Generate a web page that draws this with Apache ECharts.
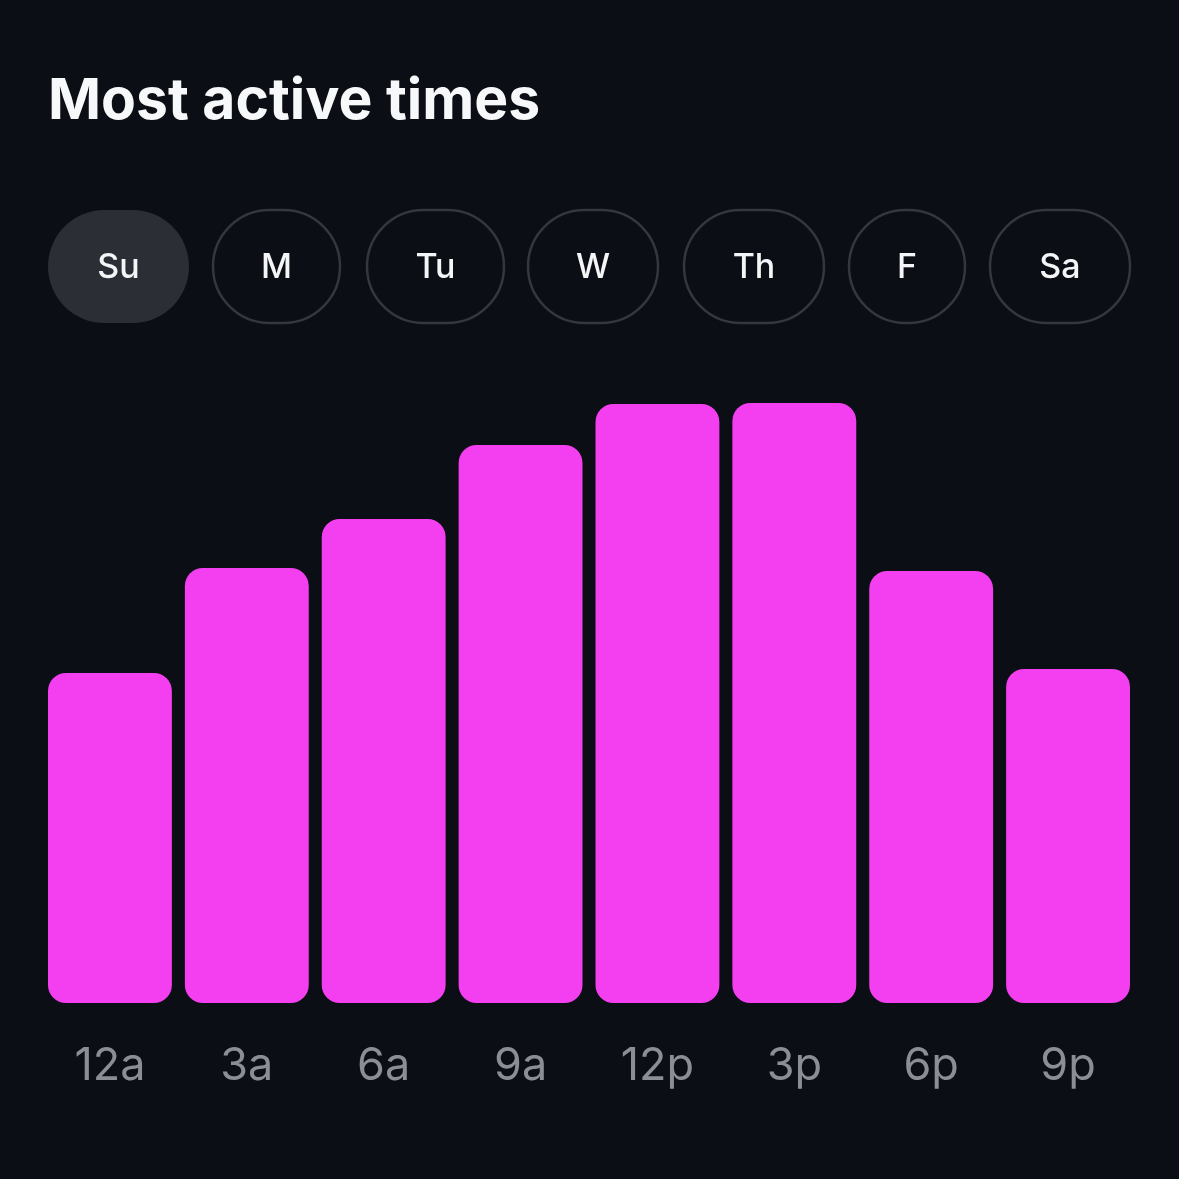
<!DOCTYPE html>
<html>
<head>
<meta charset="utf-8">
<script src="https://cdn.jsdelivr.net/npm/echarts@6/dist/echarts.min.js"></script>
<style>
html,body{margin:0;padding:0;background:#0b0e14;}
#chart{width:1179px;height:1179px;}
</style>
</head>
<body>
<div id="chart"></div>
<script>
// ---- data ----
var titleText = 'Most active times';
var days = ['Su', 'M', 'Tu', 'W', 'Th', 'F', 'Sa'];
var selectedDay = 'Su';
var hours = ['12a', '3a', '6a', '9a', '12p', '3p', '6p', '9p'];
var activity = [330, 435, 484, 558, 599, 600, 432, 334];

// ---- layout (not data) ----
var pillLayout = [
  {x: 48, w: 141}, {x: 213, w: 127}, {x: 367, w: 137}, {x: 528, w: 130},
  {x: 684, w: 140}, {x: 849, w: 116}, {x: 990, w: 140}
];
var pillTop = 210, pillH = 113;

var chart = echarts.init(document.getElementById('chart'));
var fontFam = 'Inter, "Noto Sans", sans-serif';

var pills = days.map(function (d, i) {
  var L = pillLayout[i];
  var sel = d === selectedDay;
  return {
    type: 'group',
    x: L.x, y: pillTop,
    children: [
      {
        type: 'rect',
        shape: {x: 0, y: 0, width: L.w, height: pillH, r: pillH / 2},
        style: sel ? {fill: '#2b2e35', stroke: '#2b2e35', lineWidth: 0}
                   : {fill: 'transparent', stroke: '#34373d', lineWidth: 2.5}
      },
      {
        type: 'text',
        x: L.w / 2, y: pillH / 2 + 1,
        style: {
          text: d, fill: '#f4f5f6', font: '500 34px ' + fontFam,
          align: 'center', verticalAlign: 'middle'
        }
      }
    ]
  };
});

chart.setOption({
  backgroundColor: '#0b0e14',
  animation: false,
  title: {
    text: titleText,
    left: 48, top: 73, padding: 0,
    textStyle: {color: '#f7f8f9', fontSize: 57, fontWeight: 700, fontFamily: fontFam}
  },
  graphic: pills,
  grid: {left: 41.5, right: 42.5, top: 403, bottom: 176},
  xAxis: {
    type: 'category',
    data: hours,
    axisLine: {show: false},
    axisTick: {show: false},
    axisLabel: {
      color: '#8b8e94', fontSize: 45, fontFamily: fontFam, margin: 41
    }
  },
  yAxis: {
    type: 'value', min: 0, max: 600,
    show: false,
    splitLine: {show: false}
  },
  series: [{
    type: 'bar',
    data: activity,
    barWidth: '90.5%',
    itemStyle: {color: '#f43ff1', borderRadius: 18}
  }]
});
</script>
</body>
</html>
